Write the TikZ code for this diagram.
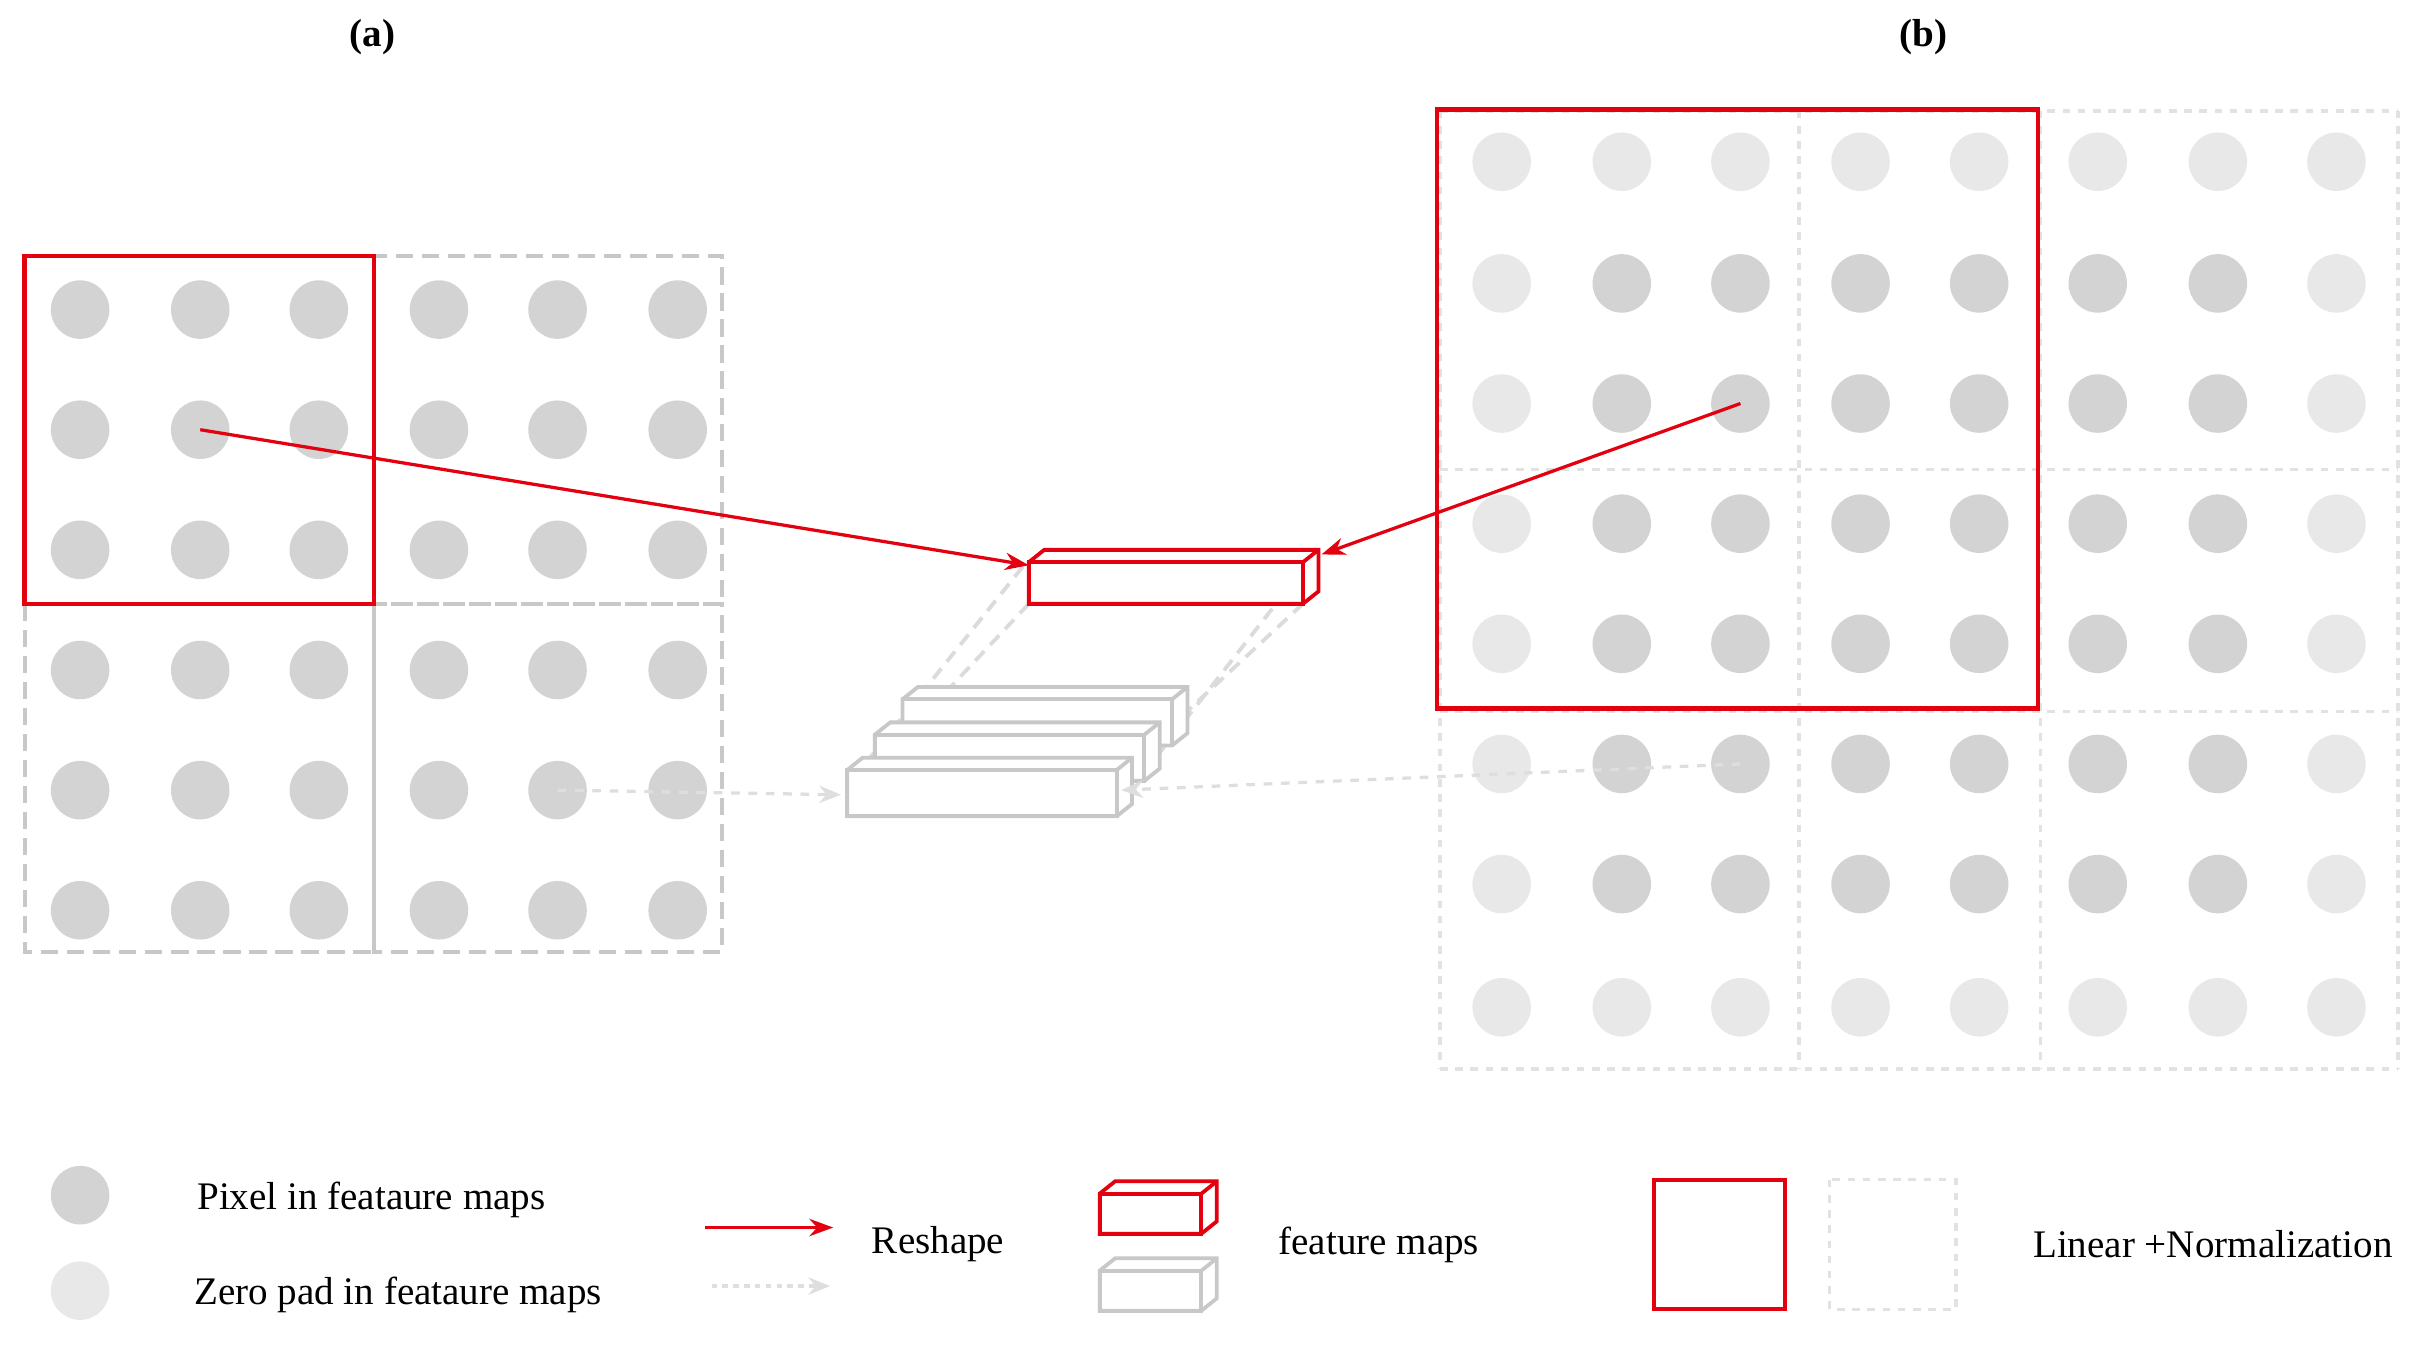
\documentclass[tikz,border=0pt]{standalone}
\usepackage{fontspec}
\setmainfont{Liberation Serif}
\usetikzlibrary{arrows.meta}
\definecolor{dk}{HTML}{D3D3D3}
\definecolor{lt}{HTML}{E8E8E8}
\definecolor{rd}{HTML}{E3000F}
\definecolor{gl}{HTML}{C8C8C8}
\tikzset{
 px/.style={fill=dk,draw=none},
 zp/.style={fill=lt,draw=none},
 redl/.style={draw=rd,line width=4pt},
 gdash/.style={draw=gl,line width=3.5pt,dash pattern=on 16pt off 8pt},
 gdot/.style={draw=lt!80!gl,line width=3pt,dash pattern=on 7pt off 7pt},
 pdash/.style={draw=lt!60!gl,line width=3.5pt,dash pattern=on 12pt off 8pt},
 rarr/.style={draw=rd,line width=3pt,-{Stealth[length=22pt,width=16pt]}},
 garr/.style={draw=lt!70!gl,line width=3pt,dash pattern=on 8pt off 8pt,-{Stealth[length=20pt,width=16pt]}},
 txt/.style={font=\fontsize{36}{42}\selectfont,anchor=west,inner sep=0pt},
 box/.style={line width=3.5pt,fill=white},
}
\newcommand{\cuboid}[6]{% x1 y1 x2 y2 color name
 \draw[box,draw=#5] (#1,#2)--(#1+10,#2-8)--(#3+10,#2-8)--(#3+10,#4-8)--(#3,#4)--(#1,#4)--cycle;
 \draw[box,draw=#5,fill=none] (#1,#2) rectangle (#3,#4);
 \draw[draw=#5,line width=3.5pt] (#3,#2)--(#3+10,#2-8);
 \coordinate (#6) at ({(#1+#3)/2},{(#2+#4)/2});
}
\begin{document}
\begin{tikzpicture}[x=1.42pt,y=-1.42pt]
\useasboundingbox (0,0) rectangle (1568,873);
\node[font=\fontsize{36}{42}\selectfont\bfseries] (ta) at (242,24) {(a)};
\node[font=\fontsize{36}{42}\selectfont\bfseries] (tb) at (1249,24) {(b)};
% (a)
\foreach \i/\x in {1/52,2/130,3/207,4/285,5/362,6/440}
 \foreach \j/\y in {1/201,2/279,3/357,4/435,5/513,6/591}
  \fill[px] (\x,\y) circle (19) coordinate (a\i\j);
\draw[gdash] (243,166) rectangle (469,392);
\draw[gdash] (16,392) rectangle (243,618);
\draw[gdash] (243,392) rectangle (469,618);
\draw[redl] (16,166) rectangle (243,392);
% (b)
\foreach \i/\x in {1/975,2/1053,3/1130,4/1208,5/1285,6/1362,7/1440,8/1517}
 \foreach \j/\y in {1/105,2/184,3/262,4/340,5/418,6/496,7/574,8/654}{
  \pgfmathtruncatemacro\dark{(\i>1)&&(\i<8)&&(\j>1)&&(\j<8)}
  \ifnum\dark=1 \fill[px] (\x,\y) circle (19) coordinate (b\i\j);
  \else \fill[zp] (\x,\y) circle (19) coordinate (b\i\j); \fi}
\foreach \x in {935,1168,1325,1557} \draw[gdot] (\x,72)--(\x,694);
\foreach \y in {72,305,462,694} \draw[gdot] (935,\y)--(1557,\y);
\draw[redl] (933,71) rectangle (1323,460);
% dashed projection lines
\draw[pdash] (664,368)--(560,498);
\draw[pdash] (668,392)--(590,475);
\draw[pdash] (852,362)--(748,495);
\draw[pdash] (846,392)--(762,470);
% gray stacked cuboids
\cuboid{586}{454}{761}{484}{gl}{g3}
\cuboid{568}{477}{743}{507}{gl}{g2}
\cuboid{550}{500}{725}{530}{gl}{g1}
\cuboid{668}{365}{846}{392}{rd}{r1}
\coordinate (r1w) at (668,367);
\coordinate (r1e) at (858,360);
\coordinate (g1w) at (546,516);
\coordinate (g1e) at (728,513);
\draw[rarr] (a22) -- (r1w);
\draw[rarr] (b33) -- (r1e);
\draw[garr] (a55) -- (g1w);
\draw[garr] (b36) -- (g1e);
% legend
\fill[px] (52,776) circle (19) coordinate (l1);
\fill[zp] (52,838) circle (19) coordinate (l2);
\node[txt] (t1) at (128,779) {Pixel in feataure maps};
\node[txt] (t2) at (126,841) {Zero pad in feataure maps};
\coordinate (ra1) at (458,797); \coordinate (ra2) at (541,797);
\draw[rarr] (ra1)--(ra2);
\coordinate (ga1) at (462,835); \coordinate (ga2) at (539,835);
\draw[garr,dash pattern=on 5pt off 5pt] (ga1)--(ga2);
\node[txt] (t3) at (566,808) {Reshape};
\cuboid{714}{775}{780}{801}{rd}{lr}
\cuboid{714}{825}{780}{851}{gl}{lg}
\node[txt] (t4) at (830,808) {feature maps};
\draw[redl] (1074,766) rectangle (1159,850);
\draw[gdot] (1188,766) rectangle (1270,850);
\node[txt] (t5) at (1320,808) {Linear +Normalization};
\end{tikzpicture}
\end{document}
